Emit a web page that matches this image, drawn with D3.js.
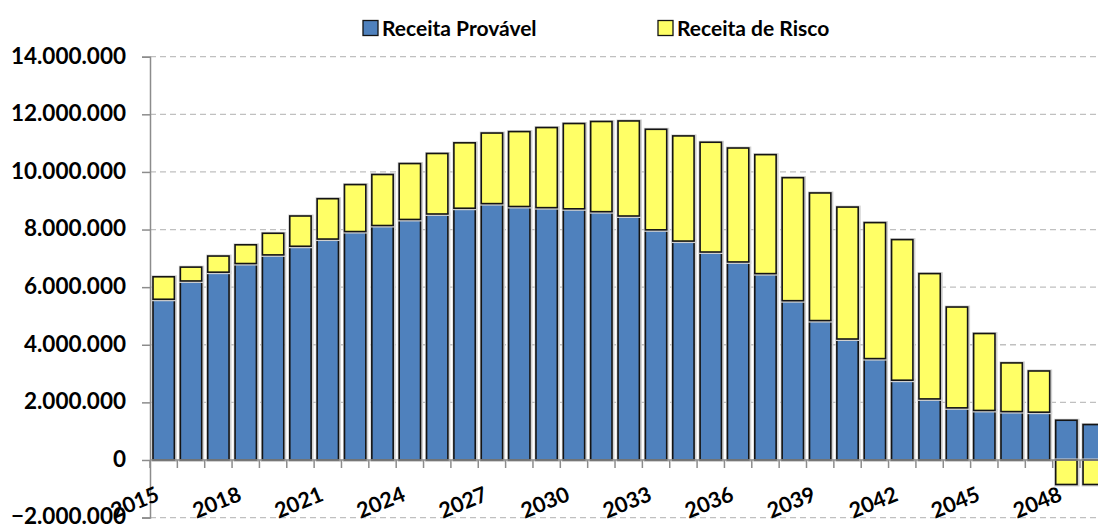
<!DOCTYPE html>
<html>
<head>
<meta charset="utf-8">
<script src="https://cdn.jsdelivr.net/npm/d3@7"></script>
<style>
  html, body { margin: 0; padding: 0; background: #ffffff; }
  svg { display: block; font-family: Lato, "Open Sans", sans-serif; }
</style>
</head>
<body>
<svg id="chart" width="1098" height="525"></svg>
<script>
// Annual revenue projection: probable revenue and revenue at risk
const years = ["2015","2016","2017","2018","2019","2020","2021","2022","2023","2024",
  "2025","2026","2027","2028","2029","2030","2031","2032","2033","2034",
  "2035","2036","2037","2038","2039","2040","2041","2042","2043","2044",
  "2045","2046","2047","2048","2049"];

const receitaProvavel = [5580000, 6215000, 6520000, 6820000, 7120000, 7420000, 7670000, 7930000, 8140000, 8350000,
  8540000, 8740000, 8900000, 8800000, 8760000, 8720000, 8620000, 8470000, 7990000, 7600000,
  7220000, 6875000, 6470000, 5530000, 4840000, 4200000, 3520000, 2770000, 2120000, 1810000,
  1720000, 1680000, 1660000, 1380000, 1230000];

const receitaRisco = [780000, 480000, 560000, 650000, 750000, 1050000, 1400000, 1630000, 1770000, 1940000,
  2100000, 2270000, 2450000, 2600000, 2780000, 2960000, 3130000, 3300000, 3490000, 3650000,
  3810000, 3955000, 4130000, 4270000, 4430000, 4580000, 4720000, 4880000, 4350000, 3500000,
  2670000, 1690000, 1430000, -850000, -850000];

const seriesNames = ["Receita Provável", "Receita de Risco"];
const seriesColors = ["#4f81bd", "#ffff66"];

const yTickValues = [-2000000, 0, 2000000, 4000000, 6000000, 8000000, 10000000, 12000000, 14000000];
const xTickLabels = ["2015","2018","2021","2024","2027","2030","2033","2036","2039","2042","2045","2048"];

const svg = d3.select("#chart");
const W = 1098, H = 525;
const plotLeft = 150, plotRight = 1107.4, plotTop = 56.7, plotBottom = 517.6;

const ptBR = d3.formatLocale({ decimal: ",", thousands: ".", grouping: [3], currency: ["R$ ", ""] });
const fmt = ptBR.format(",.0f");

const x = d3.scaleBand().domain(years).range([plotLeft, plotRight]).paddingInner(0.22).paddingOuter(0.11);
const y = d3.scaleLinear().domain([-2000000, 14000000]).range([plotBottom, plotTop]);

// Gridlines (dashed), drawn behind bars
svg.append("g")
  .selectAll("line")
  .data(yTickValues.filter(v => v !== 0))
  .join("line")
  .attr("x1", plotLeft).attr("x2", W)
  .attr("y1", d => y(d)).attr("y2", d => y(d))
  .attr("stroke", "#c0c0c0").attr("stroke-width", 1.3)
  .attr("stroke-dasharray", "6,4");

// Stacked data: negatives grow downward from zero
const rows = years.map((yr, i) => ({ year: yr, p: receitaProvavel[i], r: receitaRisco[i] }));
const stack = d3.stack().keys(["p", "r"]).offset(d3.stackOffsetDiverging);
const layers = stack(rows);

const barGroups = svg.append("g")
  .selectAll("g")
  .data(layers)
  .join("g")
  .attr("fill", (d, i) => seriesColors[i]);

// soft grey edge around each bar
barGroups.selectAll("rect.halo")
  .data(d => d)
  .join("rect")
  .attr("class", "halo")
  .attr("x", d => x(d.data.year) - 0.5)
  .attr("width", x.bandwidth() + 2)
  .attr("y", d => y(Math.max(d[0], d[1])) - 0.5)
  .attr("height", d => Math.abs(y(d[0]) - y(d[1])) + 1.5)
  .attr("fill", "none")
  .attr("stroke", "#d0d0d0")
  .attr("stroke-width", 2);

barGroups.selectAll("rect.bar")
  .data(d => d)
  .join("rect")
  .attr("class", "bar")
  .attr("x", d => x(d.data.year))
  .attr("width", x.bandwidth())
  .attr("y", d => y(Math.max(d[0], d[1])))
  .attr("height", d => Math.abs(y(d[0]) - y(d[1])))
  .attr("stroke", "#141414")
  .attr("stroke-width", 1.6);

// Y axis
const yAxis = d3.axisLeft(y).tickValues(yTickValues).tickFormat(fmt).tickSize(8).tickPadding(16);
const gy = svg.append("g").attr("transform", `translate(${plotLeft},0)`).call(yAxis);
gy.select(".domain").attr("stroke", "#8c8c8c").attr("stroke-width", 1.5);
gy.selectAll(".tick line").attr("stroke", "#8c8c8c").attr("stroke-width", 1.5);
gy.selectAll(".tick text")
  .attr("fill", "#000").attr("font-size", 22.5).attr("font-weight", 700)
  .attr("dy", "0.28em")
  .style("font-family", "Lato, sans-serif");

// X axis at zero: line plus ticks at band boundaries
const gx = svg.append("g");
gx.append("line")
  .attr("x1", plotLeft).attr("x2", W)
  .attr("y1", y(0)).attr("y2", y(0))
  .attr("stroke", "#8c8c8c").attr("stroke-width", 1.5);
const step = x.step();
const boundaries = years.map(yr => x(yr) - x.paddingOuter() * step);
gx.selectAll("line.tk")
  .data(boundaries)
  .join("line")
  .attr("class", "tk")
  .attr("x1", d => d).attr("x2", d => d)
  .attr("y1", y(0)).attr("y2", y(0) + 8)
  .attr("stroke", "#8c8c8c").attr("stroke-width", 1.5);

gx.selectAll("text")
  .data(xTickLabels)
  .join("text")
  .attr("transform", d => `translate(${x(d) + x.bandwidth() / 2 - 3},${y(0) + 40}) rotate(-22)`)
  .attr("text-anchor", "end")
  .attr("font-size", 21.5)
  .attr("font-weight", 700)
  .attr("fill", "#000")
  .text(d => d);

// Legend
const legend = svg.append("g");
const legendItems = [
  { name: seriesNames[0], color: seriesColors[0], x: 363 },
  { name: seriesNames[1], color: seriesColors[1], x: 658 }
];
legend.selectAll("rect")
  .data(legendItems)
  .join("rect")
  .attr("x", d => d.x).attr("y", 20.5)
  .attr("width", 15).attr("height", 15)
  .attr("fill", d => d.color)
  .attr("stroke", "#141414").attr("stroke-width", 1.3);
legend.selectAll("text")
  .data(legendItems)
  .join("text")
  .attr("x", d => d.x + 19).attr("y", 35.5)
  .attr("font-size", 21).attr("font-weight", 700)
  .attr("fill", "#000")
  .text(d => d.name);
</script>
</body>
</html>
